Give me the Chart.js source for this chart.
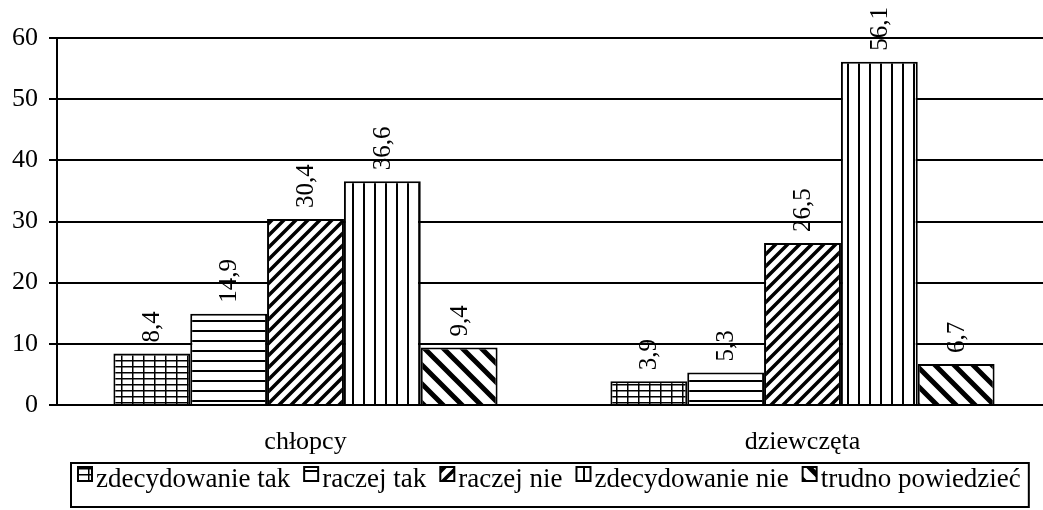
<!DOCTYPE html>
<html>
<head>
<meta charset="utf-8">
<script src="https://cdn.jsdelivr.net/npm/chart.js@4.4.0/dist/chart.umd.min.js"></script>
<style>
  html, body { margin: 0; padding: 0; background: #fff; overflow: hidden; }
  #chart { display: block; }
</style>
</head>
<body>
<canvas id="chart" width="1060" height="510"></canvas>
<script>
const categories = ['chłopcy', 'dziewczęta'];
const seriesNames = ['zdecydowanie tak', 'raczej tak', 'raczej nie', 'zdecydowanie nie', 'trudno powiedzieć'];
const zdecydowanieTak = [8.4, 3.9];
const raczejTak = [14.9, 5.3];
const raczejNie = [30.4, 26.5];
const zdecydowanieNie = [36.6, 56.1];
const trudnoPowiedziec = [9.4, 6.7];
const yTicks = [0, 10, 20, 30, 40, 50, 60];

const FONT = '"Liberation Serif", "Times New Roman", serif';

// black & white fills like the old excel hatching
function makePattern(type) {
  const c = document.createElement('canvas');
  let w = 10, h = 10;
  if (type === 'grid') { w = 11; h = 6; }
  if (type === 'vlines') { w = 11; h = 11; }
  if (type === 'fdiag') { w = 12; h = 12; }
  if (type === 'bdiag') { w = 19; h = 19; }
  c.width = w; c.height = h;
  const g = c.getContext('2d');
  g.fillStyle = '#fff';
  g.fillRect(0, 0, w, h);
  g.fillStyle = '#000';
  g.strokeStyle = '#000';
  if (type === 'grid') {
    g.fillRect(0, 0, 1.5, h);
    g.fillRect(0, 0, w, 1.5);
  } else if (type === 'hlines') {
    g.fillRect(0, 0, w, 2);
  } else if (type === 'vlines') {
    g.fillRect(0, 0, 2, h);
  } else if (type === 'fdiag') {
    g.lineWidth = 3.5;
    g.beginPath();
    g.moveTo(-2, h + 2); g.lineTo(w + 2, -2);
    g.moveTo(-2, 2); g.lineTo(2, -2);
    g.moveTo(w - 2, h + 2); g.lineTo(w + 2, h - 2);
    g.stroke();
  } else if (type === 'bdiag') {
    g.lineWidth = 5;
    g.beginPath();
    g.moveTo(-2, -2); g.lineTo(w + 2, h + 2);
    g.moveTo(w - 3, -3); g.lineTo(w + 3, 3);
    g.moveTo(-3, h - 3); g.lineTo(3, h + 3);
    g.stroke();
  }
  return document.getElementById('chart').getContext('2d').createPattern(c, 'repeat');
}

const fills = [makePattern('grid'), makePattern('hlines'), makePattern('fdiag'), makePattern('vlines'), makePattern('bdiag')];
const seriesValues = [zdecydowanieTak, raczejTak, raczejNie, zdecydowanieNie, trudnoPowiedziec];

const datasets = seriesNames.map((name, i) => ({
  label: name,
  data: seriesValues[i],
  backgroundColor: fills[i],
  borderColor: '#000',
  borderWidth: 2,
  categoryPercentage: 0.773,
  barPercentage: 1
}));

// value labels turned 90 degrees, sitting above each bar
const valueLabels = {
  id: 'valueLabels',
  afterDatasetsDraw(chart) {
    const ctx = chart.ctx;
    ctx.save();
    ctx.font = Chart.helpers.toFont({ family: FONT, size: 25 }).string;
    ctx.fillStyle = '#000';
    ctx.textAlign = 'left';
    ctx.textBaseline = 'middle';
    chart.data.datasets.forEach((ds, i) => {
      chart.getDatasetMeta(i).data.forEach((bar, j) => {
        ctx.save();
        ctx.translate(bar.x + 1, bar.y - 11);
        ctx.rotate(-Math.PI / 2);
        ctx.fillText(String(ds.data[j]).replace('.', ','), 0, 0);
        ctx.restore();
      });
    });
    ctx.restore();
  }
};

// boxed legend along the bottom
const boxLegend = {
  id: 'boxLegend',
  afterDraw(chart) {
    const ctx = chart.ctx;
    ctx.save();
    ctx.font = Chart.helpers.toFont({ family: FONT, size: 27 }).string;
    ctx.textBaseline = 'alphabetic';
    ctx.textAlign = 'left';
    let x = 78;
    const iconTop = 467, size = 14, baseY = 487;
    chart.data.datasets.forEach((ds, i) => {
      ctx.fillStyle = ds.backgroundColor;
      ctx.fillRect(x, iconTop, size, size);
      ctx.strokeStyle = '#000';
      ctx.lineWidth = 2;
      ctx.strokeRect(x, iconTop, size, size);
      x += size + 4;
      ctx.fillStyle = '#000';
      ctx.fillText(ds.label, x, baseY);
      x += ctx.measureText(ds.label).width + 14;
    });
    ctx.strokeStyle = '#000';
    ctx.lineWidth = 2;
    ctx.strokeRect(71, 463, x - 71 - 6, 44);
    ctx.restore();
  }
};

new Chart(document.getElementById('chart'), {
  type: 'bar',
  data: { labels: categories, datasets },
  plugins: [valueLabels, boxLegend],
  options: {
    responsive: false,
    animation: false,
    devicePixelRatio: 1,
    layout: { padding: { top: 38, right: 9, bottom: 50, left: 0 } },
    plugins: {
      legend: { display: false },
      tooltip: { enabled: false }
    },
    scales: {
      x: {
        grid: { display: false, drawTicks: false },
        border: { display: true, color: '#000', width: 2 },
        ticks: { color: '#000', font: { family: FONT, size: 26 }, padding: 22 },
        afterFit(scale) { scale.height = 55; }
      },
      y: {
        min: 0,
        max: 60,
        afterBuildTicks(scale) { scale.ticks = yTicks.map(v => ({ value: v })); },
        grid: { color: '#000', lineWidth: 2, tickLength: 8 },
        border: { display: true, color: '#000', width: 2 },
        ticks: { color: '#000', font: { family: FONT, size: 26 }, padding: 11 },
        afterFit(scale) { scale.width = 57; }
      }
    }
  }
});
</script>
</body>
</html>
